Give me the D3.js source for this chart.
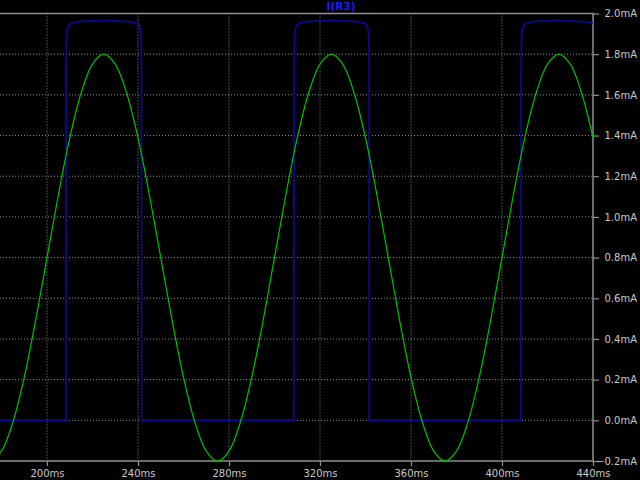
<!DOCTYPE html>
<html>
<head>
<meta charset="utf-8">
<script src="https://cdn.jsdelivr.net/npm/d3@7/dist/d3.min.js"></script>
<style>
  html, body { margin: 0; padding: 0; background: #000; }
  svg { display: block; }
</style>
</head>
<body>
<div id="chart"></div>
<script>
// x tick labels (ms) and y tick labels (mA)
var xTicks = [200, 240, 280, 320, 360, 400, 440];
var yTicks = [-0.2, 0.0, 0.2, 0.4, 0.6, 0.8, 1.0, 1.2, 1.4, 1.6, 1.8, 2.0];

// green trace
var sineTime = [175, 180, 185, 190, 195, 200, 205, 210, 215, 220, 225, 230, 235, 240, 245,
    250, 255, 260, 265, 270, 275, 280, 285, 290, 295, 300, 305, 310, 315, 320, 325, 330,
    335, 340, 345, 350, 355, 360, 365, 370, 375, 380, 385, 390, 395, 400, 405, 410, 415,
    420, 425, 430, 435, 440];
var sineValue = [-0.200, -0.151, -0.009, 0.212, 0.491, 0.800, 1.109, 1.388, 1.609, 1.751,
    1.800, 1.751, 1.609, 1.388, 1.109, 0.800, 0.491, 0.212, -0.009, -0.151, -0.200, -0.151,
    -0.009, 0.212, 0.491, 0.800, 1.109, 1.388, 1.609, 1.751, 1.800, 1.751, 1.609, 1.388,
    1.109, 0.800, 0.491, 0.212, -0.009, -0.151, -0.200, -0.151, -0.009, 0.212, 0.491, 0.800,
    1.109, 1.388, 1.609, 1.751, 1.800, 1.751, 1.609, 1.388];

// blue trace I(R3)
var pulseTime = [179.3, 208.3, 208.4, 208.6, 209.0, 209.8, 211, 214, 225, 236, 239.2, 240.4, 241.0, 241.35, 241.5, 241.55,
    308.5, 308.6, 308.8, 309.2, 310.0, 311.2, 314, 325, 336, 339.3, 340.5, 341.1, 341.45, 341.6, 341.65,
    408.3, 408.4, 408.6, 409.0, 409.8, 411, 414, 425, 436, 440];
var pulseValue = [0, 0, 1.78, 1.88, 1.925, 1.945, 1.953, 1.96, 1.966, 1.96, 1.953, 1.945, 1.925, 1.88, 1.78, 0,
    0, 1.78, 1.88, 1.925, 1.945, 1.953, 1.96, 1.966, 1.96, 1.953, 1.945, 1.925, 1.88, 1.78, 0,
    0, 1.78, 1.88, 1.925, 1.945, 1.953, 1.96, 1.966, 1.96, 1.955];

var width = 640, height = 480;
var plotLeft = 0, plotRight = 593, plotTop = 13.5, plotBottom = 461;

var x = d3.scaleLinear().domain([200, 440]).range([47, 593]);
var y = d3.scaleLinear().domain([-0.2, 2.0]).range([plotBottom, plotTop]);

var svg = d3.select("#chart")
    .append("svg")
    .attr("width", width)
    .attr("height", height)
    .style("background", "#000");

svg.append("defs").append("clipPath")
    .attr("id", "clip")
    .append("rect")
    .attr("x", plotLeft)
    .attr("y", plotTop - 2)
    .attr("width", plotRight - plotLeft)
    .attr("height", plotBottom - plotTop + 4);

// grid
svg.append("g")
    .selectAll("line")
    .data(yTicks.filter(function(d) { return d > -0.2 && d < 2.0; }))
    .enter().append("line")
    .attr("x1", plotLeft).attr("x2", plotRight)
    .attr("y1", function(d) { return y(d); })
    .attr("y2", function(d) { return y(d); })
    .attr("stroke", "#8a8a8a")
    .attr("stroke-width", 1)
    .attr("stroke-dasharray", "1,2");

svg.append("g")
    .selectAll("line")
    .data(xTicks.filter(function(d) { return d < 440; }))
    .enter().append("line")
    .attr("x1", function(d) { return x(d); })
    .attr("x2", function(d) { return x(d); })
    .attr("y1", plotTop).attr("y2", plotBottom)
    .attr("stroke", "#8a8a8a")
    .attr("stroke-width", 1)
    .attr("stroke-dasharray", "1,2");

// frame
svg.append("path")
    .attr("d", "M" + plotLeft + "," + plotTop + "H" + plotRight + "V" + plotBottom + "H" + plotLeft)
    .attr("fill", "none")
    .attr("stroke", "#909090")
    .attr("stroke-width", 1.5);

// axes
var xAxis = svg.append("g")
    .attr("transform", "translate(0," + plotBottom + ")")
    .call(d3.axisBottom(x).tickValues(xTicks).tickSize(5).tickSizeOuter(0)
        .tickFormat(function(d) { return d + "ms"; }));
xAxis.select(".domain").remove();

var yAxis = svg.append("g")
    .attr("transform", "translate(" + plotRight + ",0)")
    .call(d3.axisRight(y).tickValues(yTicks).tickSize(6).tickSizeOuter(0)
        .tickFormat(function(d) { return d3.format(".1f")(d) + "mA"; }));
yAxis.select(".domain").remove();

svg.selectAll(".tick line").attr("stroke", "#909090").attr("stroke-width", 1.2);
svg.selectAll(".tick text")
    .attr("fill", "#c8c8c8")
    .style("font-family", "DejaVu Sans, sans-serif")
    .style("font-size", "10px");
xAxis.selectAll(".tick text").attr("y", 9);
yAxis.selectAll(".tick text").attr("x", 44).attr("text-anchor", "end");

// traces
var plot = svg.append("g").attr("clip-path", "url(#clip)");

var sineLine = d3.line()
    .x(function(d) { return x(sineTime[d]); })
    .y(function(d) { return y(sineValue[d]); })
    .curve(d3.curveCatmullRom);

var pulseLine = d3.line()
    .x(function(d) { return x(pulseTime[d]); })
    .y(function(d) { return y(pulseValue[d]); });

plot.append("path")
    .datum(d3.range(pulseTime.length))
    .attr("fill", "none")
    .attr("stroke", "#0a0a90")
    .attr("stroke-width", 1.8)
    .attr("d", pulseLine);

plot.append("path")
    .datum(d3.range(sineTime.length))
    .attr("fill", "none")
    .attr("stroke", "#00c000")
    .attr("stroke-width", 1.2)
    .attr("d", sineLine);

// title
svg.append("text")
    .attr("x", 341)
    .attr("y", 10)
    .attr("text-anchor", "middle")
    .attr("fill", "#1a1aff")
    .style("font-family", "DejaVu Sans, sans-serif")
    .style("font-size", "10.5px")
    .style("font-weight", "bold")
    .text("I(R3)");
</script>
</body>
</html>
